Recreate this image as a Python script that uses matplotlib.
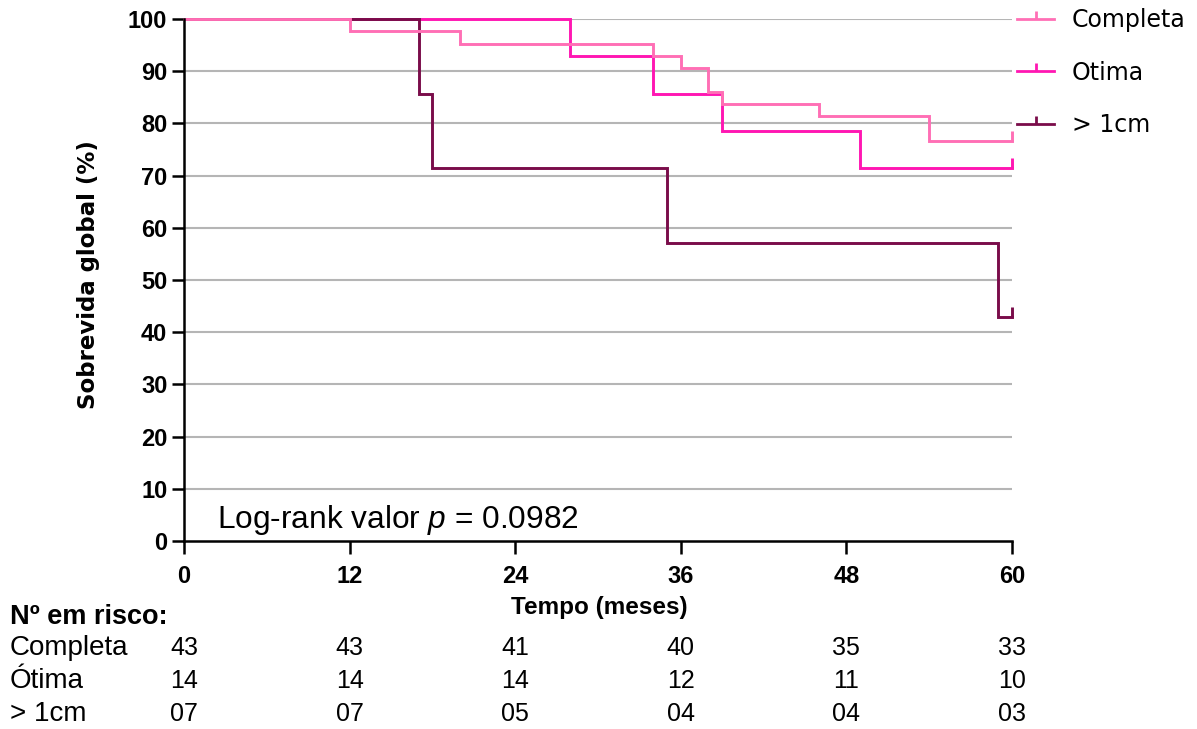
import matplotlib
matplotlib.use("Agg")
import matplotlib.pyplot as plt
from matplotlib.lines import Line2D
from matplotlib.path import Path
from matplotlib.transforms import blended_transform_factory

plt.rcParams["font.family"] = ["Liberation Sans", "DejaVu Sans"]
plt.rcParams["mathtext.fontset"] = "custom"
plt.rcParams["mathtext.rm"] = "Liberation Sans"
plt.rcParams["mathtext.it"] = "Liberation Sans:italic"

# Kaplan-Meier curves (time in months, survival in %)
completa_t = [0, 12, 20, 34, 36, 38, 39, 46, 54, 60]
completa_s = [100, 97.7, 95.3, 93.0, 90.7, 86.0, 83.7, 81.4, 76.7, 76.7]

otima_t = [0, 28, 34, 39, 49, 60]
otima_s = [100, 92.9, 85.7, 78.6, 71.4, 71.4]

maior1_t = [0, 17, 18, 35, 59, 60]
maior1_s = [100, 85.7, 71.4, 57.1, 42.9, 42.9]

group_labels = ["Completa", "Otima", "> 1cm"]
colors = ["#FF6FB5", "#FF17B2", "#7A0C4A"]

# Number at risk table
risk_times = [0, 12, 24, 36, 48, 60]
risk_rows = ["Completa", "Ótima", "> 1cm"]
risk_completa = ["43", "43", "41", "40", "35", "33"]
risk_otima = ["14", "14", "14", "12", "11", "10"]
risk_maior1 = ["07", "07", "05", "04", "04", "03"]

x_ticks = [0, 12, 24, 36, 48, 60]
y_ticks = [0, 10, 20, 30, 40, 50, 60, 70, 80, 90, 100]

fig = plt.figure(figsize=(11.97, 7.29), dpi=100)
ax = fig.add_axes([0.1537, 0.2579, 0.6917, 0.7160])

# censor tick: short vertical stroke rising from the curve
censor = Path([(0, 0), (0, 1)], [Path.MOVETO, Path.LINETO])

curves = [(completa_t, completa_s), (otima_t, otima_s), (maior1_t, maior1_s)]
zorders = [5, 3, 4]
for (t, s), c, z in zip(curves, colors, zorders):
    ax.step(t, s, where="post", color=c, lw=2.1, zorder=z, clip_on=False,
            solid_joinstyle="miter")
    ax.plot([t[-1]], [s[-1]], marker=censor, ms=15, mew=2.1, color=c,
            zorder=z, clip_on=False, linestyle="none")

ax.set_xlim(0, 60)
ax.set_ylim(0, 100)
ax.set_xticks(x_ticks)
ax.set_yticks(y_ticks)
for y in y_ticks[1:]:
    ax.axhline(y, color="#b5b5b5", lw=1.5, zorder=1)

for side in ["top", "right"]:
    ax.spines[side].set_visible(False)
for side in ["left", "bottom"]:
    ax.spines[side].set_linewidth(1.8)
    ax.spines[side].set_zorder(6)
ax.tick_params(axis="y", direction="out", length=9, width=1.8, pad=3,
               labelsize=17)
ax.tick_params(axis="x", direction="out", length=9, width=1.8, pad=8,
               labelsize=17)
for lab in ax.get_xticklabels() + ax.get_yticklabels():
    lab.set_fontweight("bold")

ax.set_ylabel("Sobrevida global (%)", fontsize=16.5, fontweight="bold",
              family=["DejaVu Sans"])
ax.yaxis.set_label_coords(-0.101, 0.51)
ax.set_xlabel("Tempo (meses)", fontsize=17.5, fontweight="bold")
ax.xaxis.set_label_coords(0.502, -0.106)

ax.text(0.040, 0.025, "Log-rank valor $p$ = 0.0982", transform=ax.transAxes,
        fontsize=22.8, va="baseline", ha="left")

handles = [Line2D([], [], color=c, lw=2.0, marker=censor, ms=11, mew=2.0)
           for c in colors]
leg = fig.legend(handles, group_labels, loc="upper left",
                 bbox_to_anchor=(0.842, 1.0015), frameon=False,
                 prop={"family": "DejaVu Sans", "size": 17},
                 handlelength=1.55, handletextpad=0.75, labelspacing=1.2,
                 borderaxespad=0)

# number-at-risk table beneath the axis
tr = blended_transform_factory(ax.transData, fig.transFigure)
fig.text(10 / 1197, 1 - 617 / 729, "Nº em risco:", fontsize=19.5,
         fontweight="bold", va="center", ha="left")
row_y = [1 - 648 / 729, 1 - 681 / 729, 1 - 714 / 729]
for name, vals, yy in zip(risk_rows, [risk_completa, risk_otima, risk_maior1], row_y):
    fig.text(10 / 1197, yy, name, fontsize=20, va="center", ha="left")
    for t, v in zip(risk_times, vals):
        ax.text(t, yy, v, transform=tr, fontsize=18, va="center", ha="center")

fig.savefig("out.png", dpi=100)
